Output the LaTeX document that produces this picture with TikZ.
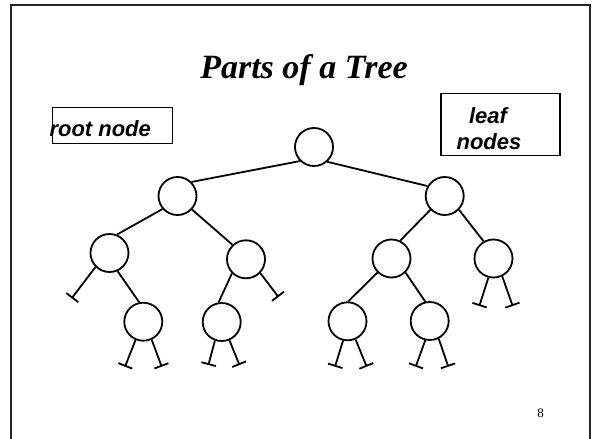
\documentclass[tikz,border=0pt]{standalone}
\usepackage{fontspec}
\setmainfont{Liberation Serif}
\newfontfamily\arialfont{Liberation Sans}
\usepackage{tikz}
\usetikzlibrary{arrows.meta}

\begin{document}
\begin{tikzpicture}[x=1pt,y=-1pt,
  tnode/.style={circle,draw,line width=1.8pt,minimum size=38pt,inner sep=0pt},
  edge/.style={line width=1.8pt},
  stub/.style={line width=1.8pt,-{Bar[width=15pt,line width=1.8pt]}},
  labelbox/.style={draw,line width=1.6pt,inner sep=0pt},
  labeltext/.style={font=\arialfont\bfseries\itshape\fontsize{22}{26}\selectfont,inner sep=0pt}]
\useasboundingbox (0,0) rectangle (595,439);
\draw[line width=2pt,black!85] (11,439) -- (11,5) -- (590,5) -- (590,439);
\node[anchor=base,inner sep=0pt,font=\bfseries\itshape\fontsize{34}{36}\selectfont] (title) at (304,78.3) {Parts of a Tree};
\node[anchor=base,inner sep=0pt,font=\fontsize{13}{15}\selectfont] (page) at (540.5,417.7) {8};

\node[labelbox,minimum width=120pt,minimum height=36pt] (rootbox) at (112.5,125.3) {};
\node[labeltext,anchor=base west] (roottext) at (49.3,136.7) {root node};
\node[labelbox,minimum width=119pt,minimum height=62pt] (leafbox) at (500.3,124.5) {};
\node[labeltext,anchor=base] (leaftext) at (488,123.3) {leaf};
\node[labeltext,anchor=base] (nodestext) at (489,149.3) {nodes};

\node[tnode] (root) at (314,147) {};
\node[tnode] (l) at (177.5,196) {};
\node[tnode] (r) at (444.7,196) {};
\node[tnode] (ll) at (109.5,253) {};
\node[tnode] (lr) at (246,259.3) {};
\node[tnode] (rl) at (391.5,258.5) {};
\node[tnode] (rr) at (493.5,258.5) {};
\node[tnode] (llr) at (143.3,321.7) {};
\node[tnode] (lrl) at (221.7,322) {};
\node[tnode] (rll) at (347.5,321.3) {};
\node[tnode] (rlr) at (429.7,321) {};

\draw[edge] (root.225) -- (l.45);
\draw[edge] (root.-48) -- (r.150);
\draw[edge] (l.221) -- (ll.68);
\draw[edge] (l.-43) -- (lr.133);
\draw[edge] (ll.-66) -- (llr.102);
\draw[edge] (lr.225) -- (lrl.99);
\draw[edge] (r.224) -- (rl.64);
\draw[edge] (r.-44) -- (rr.120);
\draw[edge] (rl.225) -- (rll.88);
\draw[edge] (rl.-45) -- (rlr.103);

\coordinate (ll-nil) at (71.7,298.3);
\coordinate (lr-nil) at (278.5,297);
\coordinate (llr-a) at (125,366.7);
\coordinate (llr-b) at (161.7,366.7);
\coordinate (lrl-a) at (208.4,365);
\coordinate (lrl-b) at (239.5,365);
\coordinate (rll-a) at (335,366.7);
\coordinate (rll-b) at (366.7,366.7);
\coordinate (rlr-a) at (415.7,366.7);
\coordinate (rlr-b) at (448.3,366.7);
\coordinate (rr-a) at (479.3,306);
\coordinate (rr-b) at (512.7,306);

\draw[stub] (ll.225) -- (ll-nil);
\draw[stub] (lr.-44) -- (lr-nil);
\draw[stub] (llr.247) -- (llr-a);
\draw[stub] (llr.-65) -- (llr-b);
\draw[stub] (lrl.250) -- (lrl-a);
\draw[stub] (lrl.-67) -- (lrl-b);
\draw[stub] (rll.257) -- (rll-a);
\draw[stub] (rll.-66) -- (rll-b);
\draw[stub] (rlr.257) -- (rlr-a);
\draw[stub] (rlr.-63) -- (rlr-b);
\draw[stub] (rr.255) -- (rr-a);
\draw[stub] (rr.-64) -- (rr-b);
\end{tikzpicture}
\end{document}
